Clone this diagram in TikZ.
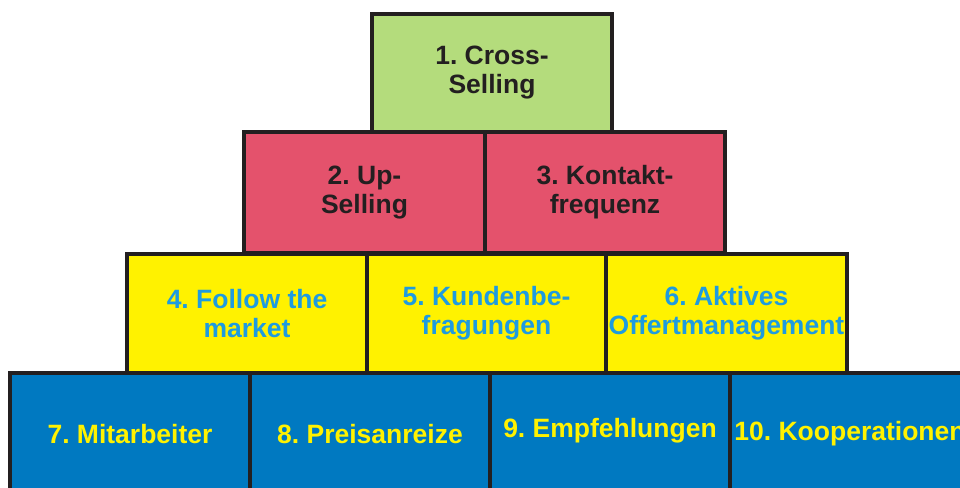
\documentclass[tikz,border=0pt]{standalone}
\usepackage{fontspec}
\setmainfont{Liberation Sans}
\frenchspacing
\definecolor{cgreen}{HTML}{B4DC7C}
\definecolor{cred}{HTML}{E4526C}
\definecolor{cyellow}{HTML}{FFF200}
\definecolor{cblue}{HTML}{0079C1}
\definecolor{ccyan}{HTML}{1E9BE0}
\definecolor{cline}{HTML}{231F20}
\tikzset{
  box/.style={draw=cline, line width=3.5pt, inner sep=0pt, align=center,
    font=\bfseries\fontsize{26.5}{29}\selectfont},
  topbox/.style={box, fill=cgreen, text=cline},
  redbox/.style={box, fill=cred, text=cline},
  yelbox/.style={box, fill=cyellow, text=ccyan},
  bluebox/.style={box, fill=cblue, text=cyellow}
}
\begin{document}
\begin{tikzpicture}[x=1pt,y=-1pt]
\useasboundingbox (0,0) rectangle (960,487);
\clip (0,0) rectangle (960,487);
% row 4
\node[bluebox, minimum width=240pt, minimum height=122pt] (b7) at (130,434) {7. Mitarbeiter};
\node[bluebox, minimum width=240pt, minimum height=122pt] (b8) at (370,434) {8. Preisanreize};
\node[bluebox, minimum width=240pt, minimum height=122pt] (b9) at (610,431) {9. Empfehlungen};
\node[bluebox, minimum width=240pt, minimum height=122pt] (b10) at (850,434) {10. Kooperationen};
% row 3
\node[yelbox, minimum width=240pt, minimum height=119pt] (b4) at (247,313.5) {4. Follow the\\market};
\node[yelbox, minimum width=239pt, minimum height=119pt] (b5) at (486.5,313.5) {5. Kundenbe-\\fragungen};
\node[yelbox, minimum width=241pt, minimum height=119pt] (b6) at (726.5,313.5) {6. Aktives\\Offertmanagement};
% row 2
\node[redbox, minimum width=241pt, minimum height=121pt] (b2) at (364.5,192.5) {2. Up-\\Selling};
\node[redbox, minimum width=240pt, minimum height=121pt] (b3) at (605,192.5) {3. Kontakt-\\frequenz};
% row 1
\node[topbox, minimum width=240pt, minimum height=118pt] (b1) at (492,73) {1. Cross-\\Selling};
\end{tikzpicture}
\end{document}
